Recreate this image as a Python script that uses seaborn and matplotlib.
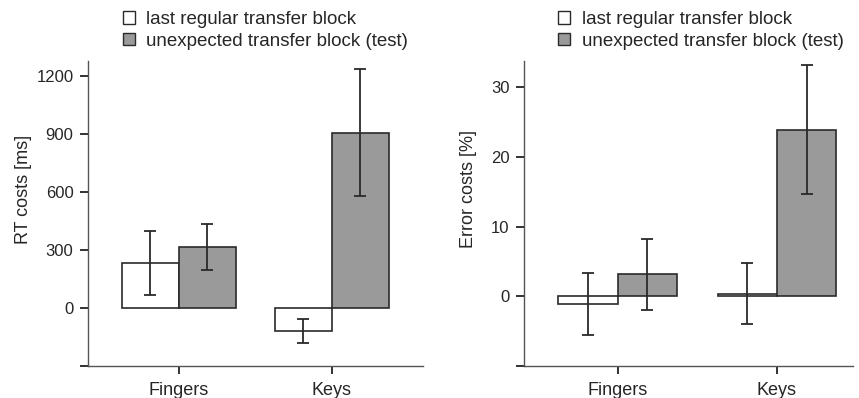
import matplotlib
matplotlib.use("Agg")
import matplotlib.pyplot as plt
import seaborn as sns
import pandas as pd
import numpy as np
from matplotlib.patches import Patch

categories = ["Fingers", "Keys"]
conditions = ["last regular transfer block", "unexpected transfer block (test)"]

rt_last = [233, -119]
rt_test = [316, 909]
rt_last_err = [165, 62]
rt_test_err = [120, 330]

err_last = [-1.1, 0.4]
err_test = [3.2, 23.95]
err_last_err = [4.5, 4.35]
err_test_err = [5.1, 9.3]

rt_ticks = [-300, 0, 300, 600, 900, 1200]
rt_ticklabels = ["", "0", "300", "600", "900", "1200"]
err_ticks = [-10, 0, 10, 20, 30]
err_ticklabels = ["", "0", "10", "20", "30"]

sns.set_theme(style="ticks")
plt.rcParams["font.family"] = ["Liberation Sans", "DejaVu Sans"]

fig = plt.figure(figsize=(8.59, 3.98), dpi=100)
ax1 = fig.add_axes([0.1024, 0.0804, 0.390, 0.7663])
ax2 = fig.add_axes([0.610, 0.0804, 0.383, 0.7663])

palette = {conditions[0]: "white", conditions[1]: "#9a9a9a"}
edge = "#2a2a2a"


def panel(ax, last, test, last_e, test_e, ylim, yticks, yticklabels, ylabel,
          xlim, label_x):
    df = pd.DataFrame({
        "cat": categories * 2,
        "cond": [conditions[0]] * 2 + [conditions[1]] * 2,
        "val": list(last) + list(test),
    })
    errs = list(last_e) + list(test_e)
    sns.barplot(data=df, x="cat", y="val", hue="cond", hue_order=conditions,
                order=categories, palette=palette, errorbar=None, width=0.745,
                edgecolor=edge, linewidth=1.2, ax=ax, legend=False)
    bars = [p for p in ax.patches if p.get_width() > 0][:4]
    for p, e in zip(bars, errs):
        cx = p.get_x() + p.get_width() / 2
        y = p.get_y() + p.get_height()
        ax.errorbar(cx, y, yerr=e, fmt="none", ecolor=edge, elinewidth=1.3,
                    capsize=4, capthick=1.3)
    ax.set_ylim(*ylim)
    ax.set_xlim(*xlim)
    ax.set_yticks(yticks)
    ax.set_yticklabels(yticklabels)
    ax.set_xlabel("")
    ax.set_ylabel(ylabel, fontsize=13)
    ax.yaxis.set_label_coords(label_x, 0.58)
    ax.tick_params(axis="both", labelsize=12, length=5.5, width=1.3,
                   color="#222222", direction="out")
    ax.tick_params(axis="y", pad=5)
    ax.tick_params(axis="x", pad=6, labelsize=13)
    for s in ["top", "right"]:
        ax.spines[s].set_visible(False)
    for s in ["left", "bottom"]:
        ax.spines[s].set_color("#555555")
        ax.spines[s].set_linewidth(1.0)
    handles = [Patch(facecolor=palette[c], edgecolor=edge, linewidth=1.0) for c in conditions]
    ax.legend(handles, conditions, loc="lower left", bbox_to_anchor=(0.07, 1.0),
              frameon=False, fontsize=13.5, handlelength=0.65, handleheight=0.65,
              handletextpad=0.6, labelspacing=0.25, borderaxespad=0.2)


panel(ax1, rt_last, rt_test, rt_last_err, rt_test_err, (-300, 1280),
      rt_ticks, rt_ticklabels, "RT costs [ms]", (-0.595, 1.595), -0.167)
panel(ax2, err_last, err_test, err_last_err, err_test_err, (-10, 33.8),
      err_ticks, err_ticklabels, "Error costs [%]", (-0.588, 1.477), -0.143)

fig.savefig("out.png", dpi=100)
